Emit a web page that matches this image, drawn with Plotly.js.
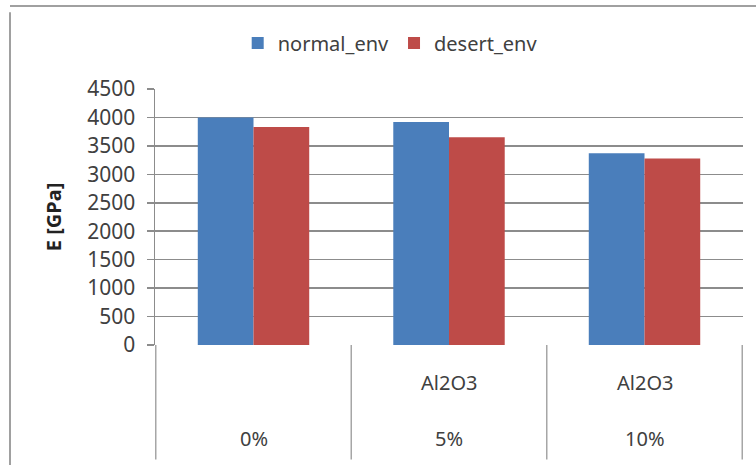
<!DOCTYPE html>
<html>
<head>
<meta charset="utf-8">
<script src="https://cdn.plot.ly/plotly-3.0.1.min.js"></script>
<style>
html,body{margin:0;padding:0;background:#fff;}
#chart{width:756px;height:465px;}
</style>
</head>
<body>
<div id="chart"></div>
<script>
// Data
var categories = ["c0", "c5", "c10"];
var topLabels = ["", "Al2O3", "Al2O3"];
var bottomLabels = ["0%", "5%", "10%"];
var normalEnv = [4000, 3920, 3370];
var desertEnv = [3830, 3650, 3280];
var yTicks = [0, 500, 1000, 1500, 2000, 2500, 3000, 3500, 4000, 4500];

var FONT = "Noto Sans, Open Sans, sans-serif";
var TXT = "#404040";
var GRID = "#8c8c8c";

var traces = [
  {type: "bar", name: "normal_env", x: categories, y: normalEnv,
   marker: {color: "#4a7ebb"}},
  {type: "bar", name: "desert_env", x: categories, y: desertEnv,
   marker: {color: "#be4b48"}}
];

var shapes = [];
// category dividers below the axis
for (var i = 0; i <= categories.length; i++) {
  shapes.push({type: "line", xref: "x", yref: "paper",
    x0: i - 0.5, x1: i - 0.5, y0: 0, y1: -0.447,
    line: {color: "#a6a6a6", width: 1.5}});
}
// outer chart border (left + top)
shapes.push({type: "line", xref: "paper", yref: "paper",
  x0: -0.2466, x1: -0.2466, y0: 1.3, y1: -0.5, line: {color: "#a0a0a0", width: 2}});
shapes.push({type: "line", xref: "paper", yref: "paper",
  x0: -0.2466, x1: 1.1, y0: 1.3242, y1: 1.3242, line: {color: "#a0a0a0", width: 2}});

var annotations = [];
for (var j = 0; j < categories.length; j++) {
  if (topLabels[j]) {
    annotations.push({xref: "x", yref: "paper", x: categories[j], y: -0.146,
      text: topLabels[j], showarrow: false, yanchor: "middle",
      font: {family: FONT, size: 20, color: TXT}});
  }
  annotations.push({xref: "x", yref: "paper", x: categories[j], y: -0.365,
    text: bottomLabels[j], showarrow: false, yanchor: "middle",
    font: {family: FONT, size: 20, color: TXT}});
}

var layout = {
  width: 756, height: 465,
  margin: {l: 155, r: 13, t: 89, b: 120},
  paper_bgcolor: "#fff", plot_bgcolor: "#fff",
  barmode: "group", bargap: 0.43, bargroupgap: 0,
  font: {family: FONT, color: TXT},
  showlegend: true,
  legend: {orientation: "h", x: 0.4, xanchor: "center", y: 1.18, yanchor: "middle",
    font: {family: FONT, size: 20, color: TXT}, itemwidth: 30, traceorder: "normal"},
  xaxis: {type: "category", showticklabels: false, showgrid: false, zeroline: false,
    showline: false, ticks: "", fixedrange: true},
  yaxis: {range: [0, 4500], tickvals: yTicks, ticktext: yTicks.map(String),
    showgrid: true, gridcolor: GRID, gridwidth: 1.5,
    showline: true, linecolor: GRID, linewidth: 1.5,
    ticks: "outside", ticklen: 7, tickcolor: GRID, tickwidth: 1.5,
    zeroline: false, tickfont: {family: FONT, size: 21, color: TXT},
    ticklabelstandoff: 7,
    title: {text: "<b>E [GPa]</b>", font: {family: FONT, size: 20, color: "#222"}, standoff: 20}},
  shapes: shapes,
  annotations: annotations
};

Plotly.newPlot("chart", traces, layout, {displayModeBar: false, staticPlot: true});
</script>
</body>
</html>
